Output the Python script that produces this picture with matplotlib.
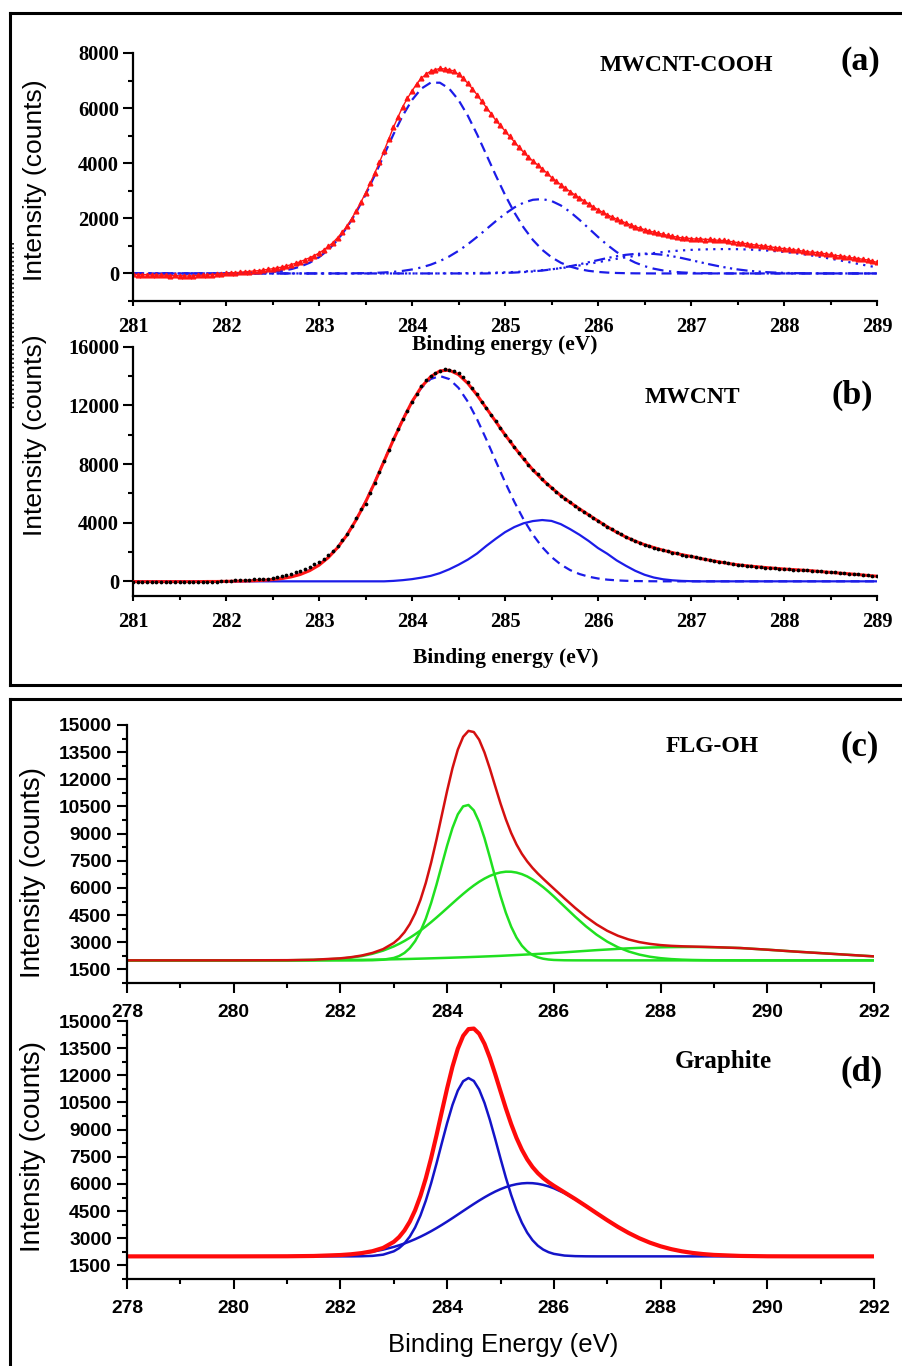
import numpy as np
import matplotlib
matplotlib.use("Agg")
import matplotlib.pyplot as plt
from matplotlib.lines import Line2D
from matplotlib.ticker import MultipleLocator

# ---------------- data ----------------
# panels (a) and (b): binding energy grids (eV)
E_AB = np.round(np.arange(281.0, 289.0001, 0.1), 2)          # fit components
E_AB_DATA = np.round(np.arange(281.0, 289.0001, 0.05), 2)    # measured points

# (a) MWCNT-COOH
A_DATA = [-30, -40, -50, -40, -60, -50, -70, -60, -80, -70,
          -90, -80, -100, -80, -70, -60, -50, -40, -30, -10,
          0, 20, 30, 40, 60, 70, 90, 100, 120, 150,
          170, 200, 230, 270, 320, 370, 430, 500, 570, 650,
          740, 850, 980, 1120, 1300, 1490, 1720, 1980, 2280, 2580,
          2920, 3270, 3650, 4030, 4450, 4880, 5300, 5680, 6050, 6350,
          6620, 6880, 7080, 7230, 7340, 7390, 7440, 7420, 7390, 7350,
          7220, 7080, 6900, 6700, 6480, 6250, 6020, 5800, 5560, 5370,
          5170, 4970, 4780, 4580, 4400, 4230, 4080, 3940, 3790, 3650,
          3480, 3350, 3220, 3090, 2970, 2850, 2740, 2630, 2520, 2410,
          2310, 2220, 2130, 2050, 1970, 1900, 1830, 1760, 1700, 1640,
          1590, 1540, 1500, 1460, 1420, 1380, 1350, 1320, 1290, 1290,
          1260, 1250, 1260, 1230, 1240, 1220, 1200, 1200, 1170, 1150,
          1120, 1100, 1080, 1050, 1030, 1010, 990, 970, 940, 920,
          900, 880, 860, 840, 810, 790, 770, 760, 740, 710,
          690, 650, 640, 610, 580, 560, 540, 510, 490, 450,
          400]
A_P1 = [0, 0, 0, 0, 0, 0, 0, 0, 0, 0,
        2, 4, 9, 17, 31, 55, 94, 155, 250, 389,
        587, 857, 1215, 1667, 2216, 2854, 3562, 4306, 5045, 5725,
        6295, 6707, 6922, 6922, 6707, 6295, 5725, 5045, 4306, 3562,
        2854, 2216, 1667, 1215, 857, 587, 389, 250, 155, 94,
        55, 31, 17, 9, 4, 2, 0, 0, 0, 0,
        0, 0, 0, 0, 0, 0, 0, 0, 0, 0,
        0, 0, 0, 0, 0, 0, 0, 0, 0, 0,
        0]
A_P2 = [0, 0, 0, 0, 0, 0, 0, 0, 0, 0,
        0, 0, 0, 0, 0, 0, 0, 0, 0, 0,
        0, 0, 0, 0, 6, 11, 20, 35, 58, 93,
        144, 217, 317, 449, 616, 820, 1059, 1326, 1609, 1894,
        2162, 2393, 2569, 2673, 2699, 2630, 2468, 2233, 1948, 1637,
        1325, 1034, 777, 563, 393, 265, 172, 107, 65, 37,
        20, 11, 6, 3, 0, 0, 0, 0, 0, 0,
        0, 0, 0, 0, 0, 0, 0, 0, 0, 0,
        0]
A_P3 = [0, 0, 0, 0, 0, 0, 0, 0, 0, 0,
        0, 0, 0, 0, 0, 0, 0, 0, 0, 0,
        0, 0, 0, 0, 0, 0, 0, 0, 0, 0,
        0, 0, 0, 0, 5, 8, 12, 16, 22, 30,
        40, 52, 70, 92, 120, 152, 190, 238, 290, 348,
        410, 470, 530, 585, 640, 692, 740, 778, 810, 835,
        855, 868, 878, 883, 885, 880, 870, 855, 835, 810,
        780, 742, 700, 650, 595, 535, 475, 410, 345, 280,
        220]
A_P4 = [0, 0, 0, 0, 0, 0, 0, 0, 0, 0,
        0, 0, 0, 0, 0, 0, 0, 0, 0, 0,
        0, 0, 0, 0, 0, 0, 0, 0, 0, 0,
        0, 0, 0, 0, 0, 0, 0, 0, 0, 12,
        20, 32, 49, 73, 105, 147, 199, 261, 331, 407,
        484, 559, 624, 676, 709, 720, 709, 676, 624, 559,
        484, 407, 331, 261, 199, 147, 105, 73, 49, 32,
        20, 12, 7, 4, 2, 0, 0, 0, 0, 0,
        0]

# (b) MWCNT
B_DATA = [-40, -30, -50, -30, -40, -20, -40, -30, -50, -30,
          -40, -20, -50, -60, -40, -30, -50, -20, -30, -10,
          10, 0, 60, 90, 100, 120, 140, 130, 150, 180,
          240, 290, 350, 420, 520, 620, 730, 850, 990, 1150,
          1330, 1540, 1780, 2050, 2400, 2800, 3250, 3750, 4300, 4900,
          5300, 6000, 6700, 7450, 8200, 8950, 9700, 10400, 11050, 11600,
          12200, 12800, 13300, 13700, 14000, 14200, 14350, 14450, 14400, 14350,
          14200, 13950, 13600, 13200, 12750, 12250, 11800, 11350, 10900, 10450,
          10000, 9600, 9150, 8750, 8350, 7950, 7600, 7300, 6950, 6650,
          6380, 6100, 5850, 5600, 5380, 5150, 4950, 4750, 4530, 4300,
          4120, 3900, 3720, 3550, 3350, 3200, 3020, 2880, 2740, 2600,
          2500, 2400, 2300, 2220, 2120, 2040, 1960, 1900, 1820, 1760,
          1700, 1640, 1560, 1520, 1440, 1380, 1330, 1290, 1220, 1170,
          1130, 1100, 1060, 1020, 1000, 970, 940, 920, 890, 860,
          840, 830, 800, 780, 770, 740, 720, 720, 690, 640,
          610, 620, 580, 550, 510, 530, 470, 440, 420, 390,
          360]
B_FIT = [-20, -20, -20, -20, -20, -20, -20, -20, -10, -10,
         0, 10, 20, 40, 70, 120, 190, 300, 470, 730,
         1100, 1620, 2300, 3150, 4200, 5400, 6750, 8200, 9650, 11000,
         12250, 13250, 13950, 14350, 14400, 14100, 13500, 12700, 11800, 10900,
         10000, 9150, 8350, 7600, 6950, 6380, 5850, 5380, 4950, 4530,
         4120, 3720, 3350, 3020, 2740, 2500, 2300, 2120, 1960, 1820,
         1700, 1560, 1440, 1330, 1220, 1130, 1060, 1000, 940, 890,
         840, 800, 760, 720, 660, 610, 560, 510, 460, 400,
         350]
B_DASH = [0, 0, 0, 0, 0, 0, 0, 0, 0, 0,
          5, 11, 20, 37, 67, 115, 194, 316, 499, 767,
          1145, 1659, 2331, 3182, 4217, 5425, 6775, 8213, 9667, 11046,
          12253, 13195, 13794, 14000, 13794, 13195, 12253, 11046, 9667, 8213,
          6775, 5425, 4217, 3182, 2331, 1659, 1145, 767, 499, 316,
          194, 115, 67, 37, 20, 11, 5, 0, 0, 0,
          0, 0, 0, 0, 0, 0, 0, 0, 0, 0,
          0, 0, 0, 0, 0, 0, 0, 0, 0, 0,
          0]
B_SOLID = [0, 0, 0, 0, 0, 0, 0, 0, 0, 0,
           0, 0, 0, 0, 0, 0, 0, 0, 0, 0,
           0, 0, 0, 0, 0, 0, 0, 0, 30, 80,
           150, 250, 370, 560, 820, 1130, 1480, 1900, 2420, 2900,
           3350, 3700, 3960, 4110, 4180, 4120, 3900, 3560, 3180, 2750,
           2270, 1880, 1430, 1060, 720, 450, 260, 140, 70, 30,
           10, 0, 0, 0, 0, 0, 0, 0, 0, 0,
           0, 0, 0, 0, 0, 0, 0, 0, 0, 0,
           0]

# panels (c) and (d)
E_CD = [278.0, 279.0, 280.0, 281.0, 281.5, 282.0, 282.2, 282.4, 282.6, 282.8,
        283.0, 283.1, 283.2, 283.3, 283.4, 283.5, 283.6, 283.7, 283.8, 283.9,
        284.0, 284.1, 284.2, 284.3, 284.4, 284.5, 284.6, 284.7, 284.8, 284.9,
        285.0, 285.1, 285.2, 285.3, 285.4, 285.5, 285.6, 285.7, 285.8, 285.9,
        286.0, 286.2, 286.4, 286.6, 286.8, 287.0, 287.2, 287.4, 287.6, 287.8,
        288.0, 288.2, 288.4, 288.6, 288.8, 289.0, 289.5, 290.0, 290.5, 291.0,
        291.5, 292.0]

# (c) FLG-OH
C_FIT = [2000, 2000, 2001, 2010, 2034, 2113, 2176, 2269, 2410, 2622,
         2964, 3218, 3555, 4004, 4591, 5346, 6281, 7398, 8664, 10018,
         11371, 12615, 13640, 14347, 14676, 14611, 14188, 13482, 12594, 11625,
         10666, 9795, 9036, 8403, 7887, 7466, 7107, 6792, 6506, 6232,
         5961, 5419, 4895, 4410, 3986, 3634, 3360, 3156, 3010, 2911,
         2844, 2803, 2778, 2762, 2747, 2731, 2681, 2590, 2490, 2400,
         2310, 2220]
C_G1 = [2000, 2000, 2000, 2000, 2000, 2000, 2000, 2001, 2008, 2036,
        2133, 2239, 2411, 2676, 3063, 3600, 4303, 5172, 6178, 7264,
        8344, 9313, 10065, 10507, 10583, 10283, 9645, 8751, 7703, 6607,
        5560, 4632, 3861, 3258, 2814, 2504, 2298, 2169, 2091, 2047,
        2023, 2005, 2001, 2000, 2000, 2000, 2000, 2000, 2000, 2000,
        2000, 2000, 2000, 2000, 2000, 2000, 2000, 2000, 2000, 2000,
        2000, 2000]
C_G2 = [2000, 2000, 2001, 2005, 2024, 2093, 2151, 2238, 2364, 2538,
        2771, 2913, 3071, 3248, 3440, 3650, 3874, 4113, 4364, 4623,
        4887, 5152, 5415, 5670, 5913, 6137, 6341, 6517, 6665, 6780,
        6856, 6898, 6895, 6850, 6763, 6637, 6469, 6267, 6043, 5795,
        5528, 4969, 4409, 3885, 3421, 3034, 2725, 2491, 2320, 2201,
        2122, 2071, 2040, 2022, 2012, 2006, 2001, 2000, 2000, 2000,
        2000, 2000]
C_G3 = [2000, 2000, 2000, 2005, 2010, 2020, 2025, 2030, 2038, 2048,
        2060, 2066, 2073, 2080, 2088, 2096, 2104, 2113, 2122, 2131,
        2140, 2150, 2160, 2170, 2180, 2191, 2202, 2214, 2226, 2238,
        2250, 2265, 2280, 2295, 2310, 2325, 2340, 2356, 2372, 2390,
        2410, 2445, 2485, 2525, 2565, 2600, 2635, 2665, 2690, 2710,
        2722, 2732, 2738, 2740, 2735, 2725, 2680, 2590, 2490, 2400,
        2310, 2220]

# (d) Graphite
D_FIT = [2000, 2000, 2000, 2006, 2022, 2074, 2116, 2182, 2286, 2466,
         2801, 3068, 3432, 3917, 4549, 5345, 6310, 7433, 8679, 9990,
         11286, 12477, 13467, 14179, 14552, 14582, 14297, 13738, 12971, 12071,
         11118, 10179, 9308, 8540, 7892, 7361, 6935, 6597, 6324, 6098,
         5898, 5533, 5168, 4783, 4387, 3998, 3629, 3295, 3003, 2757,
         2557, 2399, 2279, 2190, 2126, 2081, 2024, 2005, 2001, 2000,
         2000, 2000]
D_B1 = [2000, 2000, 2000, 2000, 2000, 2000, 2000, 2007, 2027, 2094,
        2279, 2456, 2718, 3091, 3599, 4259, 5077, 6042, 7119, 8253,
        9364, 10364, 11158, 11673, 11850, 11687, 11215, 10478, 9545, 8493,
        7406, 6353, 5390, 4553, 3861, 3311, 2893, 2589, 2375, 2232,
        2138, 2044, 2013, 2003, 2000, 2000, 2000, 2000, 2000, 2000,
        2000, 2000, 2000, 2000, 2000, 2000, 2000, 2000, 2000, 2000,
        2000, 2000]
D_B2 = [2000, 2000, 2000, 2006, 2022, 2074, 2116, 2175, 2259, 2372,
        2522, 2612, 2714, 2826, 2950, 3086, 3233, 3391, 3560, 3737,
        3922, 4113, 4309, 4506, 4702, 4895, 5082, 5260, 5426, 5578,
        5712, 5826, 5918, 5987, 6031, 6050, 6042, 6008, 5949, 5866,
        5760, 5489, 5155, 4780, 4387, 3998, 3629, 3295, 3003, 2757,
        2557, 2399, 2279, 2190, 2126, 2081, 2024, 2005, 2001, 2000,
        2000, 2000]

# ---------------- figure ----------------
W, H = 902, 1366
fig = plt.figure(figsize=(W / 100, H / 100), dpi=100)
SERIF = "Liberation Serif"
SANS = "Liberation Sans"


def rect(l, t, r, b):
    return [l / W, 1 - b / H, (r - l) / W, (b - t) / H]


def ftext(x, y, s, **kw):
    fig.text(x / W, 1 - y / H, s, **kw)


def style_axes(ax, family, size, xmaj, xmin, ymaj, ymin, xlen, ylen, xpad, ypad):
    for s in ("top", "right"):
        ax.spines[s].set_visible(False)
    for s in ("left", "bottom"):
        ax.spines[s].set_linewidth(1.6)
    ax.xaxis.set_major_locator(MultipleLocator(xmaj))
    ax.xaxis.set_minor_locator(MultipleLocator(xmin))
    ax.yaxis.set_major_locator(MultipleLocator(ymaj))
    ax.yaxis.set_minor_locator(MultipleLocator(ymin))
    ax.tick_params(axis="x", which="major", direction="out", length=xlen[0], width=1.5, pad=xpad)
    ax.tick_params(axis="x", which="minor", direction="out", length=xlen[1], width=1.5)
    ax.tick_params(axis="y", which="major", direction="out", length=ylen[0], width=1.5, pad=ypad)
    ax.tick_params(axis="y", which="minor", direction="out", length=ylen[1], width=1.5)
    for lab in ax.get_xticklabels() + ax.get_yticklabels():
        lab.set_fontfamily(family)
        lab.set_fontweight("bold")
        lab.set_fontsize(size)


BLUE = "#1c1ce8"
RED = "#ff1414"

# ---- (a) ----
ax_a = fig.add_axes(rect(133, 53, 877, 301))
ax_a.plot(E_AB, A_P4, color=BLUE, lw=1.6, ls=(0, (5, 2, 1, 2, 1, 2)))
ax_a.plot(E_AB, A_P3, color=BLUE, lw=1.6, ls=(0, (1, 2.4)))
ax_a.plot(E_AB, A_P2, color=BLUE, lw=1.6, ls=(0, (5, 2.5, 1, 2.5)))
ax_a.plot(E_AB, A_P1, color=BLUE, lw=1.6, ls=(0, (4.5, 2.5)))
ax_a.plot(E_AB_DATA, A_DATA, color=RED, lw=1.0, marker="^", ms=3.4, mec=RED, mfc=RED)
ax_a.set_xlim(281, 289)
ax_a.set_ylim(-1000, 8000)
style_axes(ax_a, SERIF, 14.8, 1, 0.5, 2000, 1000, (3.5, 3), (7, 3.6), 8, 3)

# ---- (b) ----
ax_b = fig.add_axes(rect(133, 346.7, 877, 596))
ax_b.plot(E_AB, B_DASH, color=BLUE, lw=1.6, ls=(0, (4, 2.5)))
ax_b.plot(E_AB, B_SOLID, color=BLUE, lw=1.6)
ax_b.plot(E_AB, B_FIT, color=RED, lw=2.2, zorder=3)
ax_b.plot(E_AB_DATA, B_DATA, ls="none", marker="o", ms=1.7, color="black", zorder=4)
ax_b.set_xlim(281, 289)
ax_b.set_ylim(-1000, 16000)
style_axes(ax_b, SERIF, 14.8, 1, 0.5, 4000, 2000, (3.5, 3), (7, 3.6), 8, 3)

# ---- (c) ----
GREEN = "#20e020"
ax_c = fig.add_axes(rect(127, 725, 874, 983))
ax_c.plot(E_CD, C_G3, color=GREEN, lw=1.8)
ax_c.plot(E_CD, C_G2, color=GREEN, lw=1.8)
ax_c.plot(E_CD, C_G1, color=GREEN, lw=1.8)
ax_c.plot(E_CD, C_FIT, color="#d41010", lw=1.8)
ax_c.set_xlim(278, 292)
ax_c.set_ylim(750, 15000)
style_axes(ax_c, SANS, 13.8, 2, 1, 1500, 750, (7, 3.6), (7, 3.6), 8, 4)

# ---- (d) ----
ax_d = fig.add_axes(rect(127, 1021, 874, 1279))
ax_d.plot(E_CD, D_B2, color="#1414c8", lw=1.8)
ax_d.plot(E_CD, D_B1, color="#1414c8", lw=1.8)
ax_d.plot(E_CD, D_FIT, color="#ff0a0a", lw=3.0)
ax_d.set_xlim(278, 292)
ax_d.set_ylim(750, 15000)
style_axes(ax_d, SANS, 13.8, 2, 1, 1500, 750, (7, 3.6), (7, 3.6), 8, 4)

# ---- axis titles ----
ylab_kw = dict(rotation=90, ha="center", va="center", family=SANS)
ftext(35, 180, "Intensity (counts)", fontsize=19, **ylab_kw)
ftext(35, 435, "Intensity (counts)", fontsize=19, **ylab_kw)
ftext(33, 873, "Intensity (counts)", fontsize=20, **ylab_kw)
ftext(33, 1147, "Intensity (counts)", fontsize=20, **ylab_kw)

ftext(505, 345, "Binding energy (eV)", fontsize=15.5, family=SERIF, weight="bold", ha="center", va="center")
ftext(506, 658, "Binding energy (eV)", fontsize=15.5, family=SERIF, weight="bold", ha="center", va="center")
ftext(503, 1345, "Binding Energy (eV)", fontsize=18.5, family=SANS, ha="center", va="center")

# ---- panel annotations ----
ann = dict(family=SERIF, weight="bold", ha="center", va="baseline")
ftext(686, 71, "MWCNT-COOH", fontsize=17, **ann)
ftext(860, 70, "(a)", fontsize=24.5, **ann)
ftext(692, 403, "MWCNT", fontsize=17, **ann)
ftext(852, 404, "(b)", fontsize=24.5, **ann)
ftext(712, 752, "FLG-OH", fontsize=17, **ann)
ftext(860, 755, "(c)", fontsize=25, **ann)
ftext(723, 1068, "Graphite", fontsize=18, **ann)
ftext(862, 1080, "(d)", fontsize=25, **ann)

# ---- frames around the two composite blocks ----
def fline(xs, ys, **kw):
    fig.add_artist(Line2D([x / W for x in xs], [1 - y / H for y in ys],
                          transform=fig.transFigure, color="black", **kw))

fline([10, 902], [13, 13], lw=2.2)
fline([10, 10], [13, 685], lw=2.2)
fline([10, 902], [685, 685], lw=2.2)
fline([10, 902], [699, 699], lw=2.2)
fline([10, 10], [699, 1366], lw=2.2)
fline([13, 13], [243, 410], lw=1.2, ls=":")

fig.savefig("out.png", dpi=100)
